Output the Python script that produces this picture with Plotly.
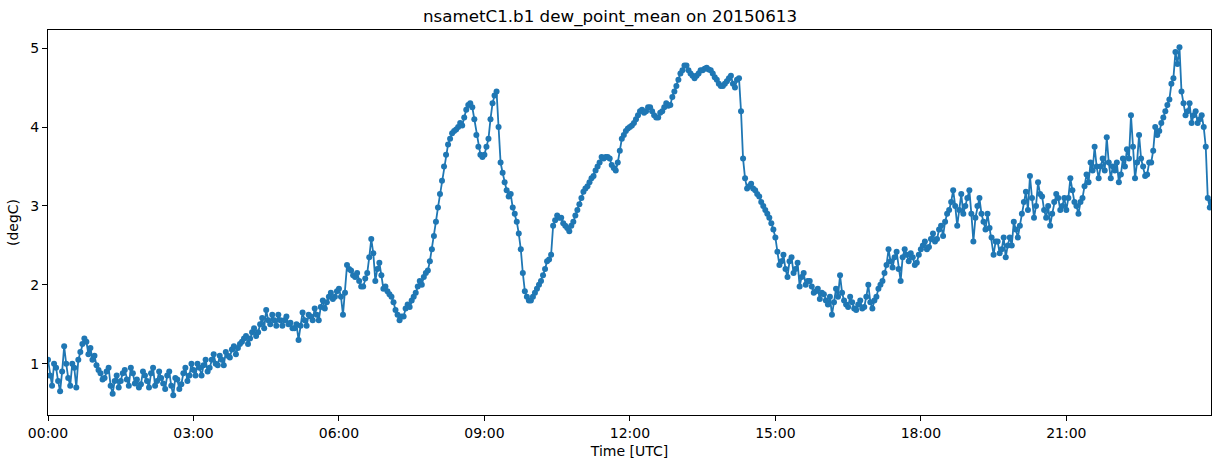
import pandas as pd
import plotly.graph_objects as go

# Dew point mean (degC).
# hNN: readings at hh:00, hh:05, ... hh:55 ; mNN: readings at hh:02:30, hh:07:30, ... hh:57:30
h00 = [1.05, 0.72, 0.95, 0.65, 1.22, 0.82, 1.00, 0.70, 1.15, 1.32, 1.12, 1.05]
m00 = [0.85, 1.00, 0.78, 0.90, 1.00, 0.72, 0.95, 1.05, 1.25, 1.28, 1.20, 1.10]
h01 = [0.98, 0.88, 0.82, 0.95, 0.62, 0.85, 0.78, 0.92, 0.72, 0.88, 0.80, 0.74]
m01 = [0.92, 0.80, 0.90, 0.72, 0.78, 0.70, 0.88, 0.80, 0.95, 0.75, 0.70, 0.90]
h02 = [0.85, 0.70, 0.95, 0.78, 0.82, 0.68, 0.90, 0.60, 0.80, 0.74, 0.95, 0.85]
m02 = [0.78, 0.88, 0.72, 0.90, 0.75, 0.85, 0.72, 0.82, 0.68, 0.88, 0.78, 1.00]
h03 = [0.92, 1.00, 0.85, 1.05, 0.95, 1.12, 0.98, 1.05, 1.15, 1.08, 1.22, 1.20]
m03 = [0.85, 0.95, 0.98, 0.90, 1.05, 1.00, 1.10, 0.98, 1.10, 1.18, 1.12, 1.25]
h04 = [1.28, 1.35, 1.32, 1.45, 1.40, 1.58, 1.68, 1.50, 1.55, 1.62, 1.48, 1.60]
m04 = [1.32, 1.25, 1.40, 1.35, 1.50, 1.45, 1.55, 1.62, 1.48, 1.55, 1.55, 1.50]
h05 = [1.52, 1.45, 1.30, 1.65, 1.48, 1.60, 1.70, 1.55, 1.80, 1.78, 1.90, 1.85]
m05 = [1.45, 1.50, 1.48, 1.55, 1.62, 1.55, 1.62, 1.72, 1.70, 1.85, 1.82, 1.92]
h06 = [1.95, 1.62, 2.25, 2.18, 2.10, 2.05, 1.98, 2.15, 2.58, 2.05, 2.28, 1.95]
m06 = [1.85, 1.90, 2.20, 2.12, 2.15, 1.98, 2.08, 2.35, 2.40, 2.20, 2.12, 1.98]
h07 = [1.92, 1.85, 1.68, 1.55, 1.60, 1.75, 1.80, 1.90, 2.05, 2.10, 2.18, 2.45]
m07 = [1.88, 1.78, 1.62, 1.60, 1.70, 1.72, 1.85, 1.98, 2.00, 2.15, 2.30, 2.62]
h08 = [2.80, 3.15, 3.50, 3.78, 3.92, 3.97, 4.05, 4.12, 4.28, 4.25, 3.90, 3.65]
m08 = [2.98, 3.32, 3.65, 3.85, 3.95, 4.00, 4.02, 4.22, 4.30, 4.10, 3.75, 3.62]
h09 = [3.65, 3.85, 4.30, 4.45, 3.55, 3.30, 3.12, 2.98, 2.80, 2.45, 1.92, 1.80]
m09 = [3.75, 4.10, 4.40, 4.00, 3.42, 3.20, 3.15, 2.90, 2.65, 2.15, 1.85, 1.80]
h10 = [1.85, 1.95, 2.05, 2.20, 2.32, 2.75, 2.88, 2.85, 2.75, 2.68, 2.80, 2.95]
m10 = [1.90, 2.00, 2.12, 2.30, 2.38, 2.82, 2.85, 2.78, 2.72, 2.75, 2.88, 3.02]
h11 = [3.10, 3.22, 3.30, 3.38, 3.50, 3.62, 3.62, 3.60, 3.48, 3.55, 3.85, 3.95]
m11 = [3.18, 3.25, 3.35, 3.45, 3.55, 3.60, 3.62, 3.52, 3.45, 3.70, 3.90, 3.98]
h12 = [4.00, 4.05, 4.15, 4.22, 4.20, 4.25, 4.15, 4.12, 4.20, 4.30, 4.28, 4.45]
m12 = [4.02, 4.10, 4.20, 4.18, 4.25, 4.20, 4.12, 4.18, 4.25, 4.27, 4.38, 4.52]
h13 = [4.60, 4.72, 4.78, 4.68, 4.62, 4.68, 4.72, 4.75, 4.72, 4.63, 4.55, 4.52]
m13 = [4.68, 4.78, 4.72, 4.65, 4.65, 4.72, 4.74, 4.73, 4.68, 4.60, 4.52, 4.55]
h14 = [4.58, 4.65, 4.50, 4.62, 3.60, 3.22, 3.28, 3.20, 3.12, 3.00, 2.90, 2.78]
m14 = [4.62, 4.55, 4.60, 4.20, 3.35, 3.25, 3.22, 3.15, 3.05, 2.95, 2.85, 2.70]
h15 = [2.60, 2.25, 2.38, 2.10, 2.35, 2.20, 1.98, 2.15, 2.05, 1.98, 1.92, 1.82]
m15 = [2.42, 2.30, 2.20, 2.30, 2.15, 2.28, 2.10, 2.00, 2.05, 1.90, 1.95, 1.90]
h16 = [1.88, 1.75, 1.62, 1.95, 2.12, 1.80, 1.72, 1.78, 1.68, 1.80, 1.72, 2.00]
m16 = [1.80, 1.85, 1.78, 1.85, 1.90, 1.75, 1.85, 1.70, 1.75, 1.70, 1.85, 1.78]
h17 = [1.70, 1.85, 2.00, 2.15, 2.45, 2.22, 2.42, 2.05, 2.45, 2.30, 2.35, 2.28]
m17 = [1.80, 1.95, 2.05, 2.25, 2.30, 2.35, 2.20, 2.35, 2.38, 2.40, 2.25, 2.38]
h18 = [2.45, 2.55, 2.48, 2.65, 2.58, 2.75, 2.80, 2.95, 3.20, 2.75, 3.15, 3.00]
m18 = [2.50, 2.45, 2.58, 2.55, 2.70, 2.62, 2.90, 3.05, 3.00, 2.95, 2.90, 3.10]
h19 = [3.20, 2.55, 3.00, 2.90, 2.70, 2.72, 2.38, 2.55, 2.45, 2.35, 2.60, 2.80]
m19 = [2.90, 2.85, 3.10, 2.80, 2.90, 2.60, 2.55, 2.40, 2.60, 2.50, 2.50, 2.70]
h20 = [2.60, 2.90, 3.18, 3.38, 2.85, 3.30, 3.12, 2.85, 2.75, 3.05, 3.10, 3.00]
m20 = [2.75, 3.05, 2.95, 3.10, 3.00, 3.15, 2.95, 3.00, 2.90, 3.15, 2.95, 3.10]
h21 = [2.95, 3.35, 3.05, 2.90, 3.10, 3.40, 3.55, 3.75, 3.35, 3.60, 3.87, 3.35]
m21 = [3.10, 3.20, 3.00, 3.05, 3.25, 3.30, 3.45, 3.50, 3.50, 3.45, 3.55, 3.50]
h22 = [3.45, 3.30, 3.60, 3.72, 4.15, 3.35, 3.90, 3.50, 3.40, 3.55, 4.00, 3.95]
m22 = [3.55, 3.40, 3.50, 3.60, 3.75, 3.55, 3.60, 3.38, 3.55, 3.70, 3.90, 4.05]
h23 = [4.12, 4.28, 4.55, 4.95, 5.01, 4.30, 4.20, 4.05, 4.20, 4.10, 4.00, 3.10]
m23 = [4.20, 4.35, 4.62, 4.80, 4.45, 4.15, 4.30, 4.15, 4.05, 4.15, 3.75, 2.98]
last_value = [3.05]   # 23:59

on_five = [h00, h01, h02, h03, h04, h05, h06, h07, h08, h09, h10, h11,
           h12, h13, h14, h15, h16, h17, h18, h19, h20, h21, h22, h23]
half_way = [m00, m01, m02, m03, m04, m05, m06, m07, m08, m09, m10, m11,
            m12, m13, m14, m15, m16, m17, m18, m19, m20, m21, m22, m23]

values = []
for h, m in zip(on_five, half_way):
    for a, b in zip(h, m):
        values.extend([a, b])
values += last_value

times = list(pd.date_range("2015-06-13 00:00", periods=576, freq="150s")) + [pd.Timestamp("2015-06-13 23:59")]

tick_vals = pd.date_range("2015-06-13 00:00", periods=8, freq="3h")
tick_text = ["00:00", "03:00", "06:00", "09:00", "12:00", "15:00", "18:00", "21:00"]

color = "#1f77b4"
font = "DejaVu Sans"

fig = go.Figure()
fig.add_trace(go.Scatter(
    x=times, y=values, mode="lines+markers",
    line=dict(color=color, width=1.8),
    marker=dict(color=color, size=6, line=dict(width=0)),
    showlegend=False,
))

axis_common = dict(
    showline=True, linecolor="black", linewidth=1, mirror=True,
    ticks="outside", ticklen=5, tickcolor="black", tickwidth=1,
    showgrid=False, zeroline=False,
    tickfont=dict(family=font, size=14, color="black"),
)

fig.update_layout(
    width=1220, height=468,
    margin=dict(l=48, r=9, t=30, b=53),
    paper_bgcolor="white", plot_bgcolor="white",
    font=dict(family=font, color="black"),
    title=dict(text="nsametC1.b1 dew_point_mean on 20150613",
               x=0.5, xanchor="center", y=1 - 16 / 468, yanchor="middle",
               font=dict(family=font, size=16.7, color="black")),
    xaxis=dict(
        range=[pd.Timestamp("2015-06-13 00:00"), pd.Timestamp("2015-06-13 23:59")],
        tickvals=tick_vals, ticktext=tick_text,
        title=dict(text="Time [UTC]", font=dict(family=font, size=14), standoff=6),
        **axis_common,
    ),
    yaxis=dict(
        range=[0.35, 5.23],
        tickvals=[1, 2, 3, 4, 5], ticktext=["1", "2", "3", "4", "5"],
        title=dict(text="(degC)", font=dict(family=font, size=14), standoff=8),
        **axis_common,
    ),
)

fig.write_html("out.html")
